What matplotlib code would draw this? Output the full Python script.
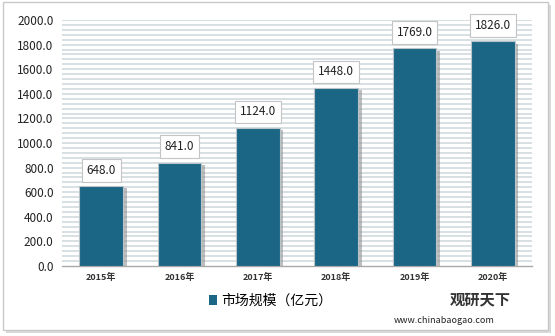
import matplotlib
matplotlib.use("Agg")
import matplotlib.pyplot as plt
import matplotlib.patheffects as pe
from matplotlib.patches import Rectangle

plt.rcParams['font.family'] = ['Noto Sans CJK SC', 'DejaVu Sans']

years = ["2015年", "2016年", "2017年", "2018年", "2019年", "2020年"]
market_size = [648.0, 841.0, 1124.0, 1448.0, 1769.0, 1826.0]
y_ticks = [0, 200, 400, 600, 800, 1000, 1200, 1400, 1600, 1800, 2000]
legend_label = "市场规模（亿元）"

bar_color = "#1b6585"

fig = plt.figure(figsize=(5.55, 3.36), dpi=100)
fig.patch.set_facecolor("white")

# outer frame with soft shadow
shadow = Rectangle((0.010, 0.008), 0.982, 0.978, transform=fig.transFigure,
                   facecolor="#d9d9d9", edgecolor="none", zorder=-2)
frame = Rectangle((0.005, 0.018), 0.982, 0.975, transform=fig.transFigure,
                  facecolor="white", edgecolor="#c8c8c8", linewidth=1.0, zorder=-1)
fig.patches.extend([shadow, frame])

ax = fig.add_axes([0.1117, 0.2083, 0.847, 0.7321])
ax.set_facecolor("none")
ax.set_ylim(0, 2000)
ax.set_xlim(-0.5, len(years) - 0.5)

# striped background
for lv in range(40, 2001, 40):
    ax.axhline(lv, color="#d6dde0", linewidth=1.3, zorder=0)

x = list(range(len(years)))
bars = ax.bar(x, market_size, width=0.56, color=bar_color,
              edgecolor="#b9c4c9", linewidth=0.8, zorder=3)
for b in bars:
    b.set_path_effects([pe.SimplePatchShadow(offset=(2.5, -1.5), shadow_rgbFace="#8a8a8a", alpha=0.55),
                        pe.Normal()])

for xi, v in zip(x, market_size):
    ax.annotate(f"{v:.1f}", (xi, v), xytext=(0, 11.5), textcoords="offset points",
                ha="center", va="center", fontsize=8.5, color="#222222", zorder=5,
                bbox=dict(boxstyle="square,pad=0.4", facecolor="white", edgecolor="#c4c4c4",
                          linewidth=0.8))

ax.set_yticks(y_ticks)
ax.set_yticklabels([f"{t:.1f}" for t in y_ticks], fontsize=8.5, color="#222222")
ax.set_xticks(x)
ax.set_xticklabels(years, fontsize=6.5, color="#333333", fontweight="bold")
ax.tick_params(axis="both", length=0)
ax.tick_params(axis="x", pad=5)
ax.tick_params(axis="y", pad=6)
for s in ["top", "right", "left"]:
    ax.spines[s].set_visible(False)
ax.spines["bottom"].set_color("#a9a9a9")
ax.spines["bottom"].set_linewidth(1.0)

# legend
fig.legend(handles=[Rectangle((0, 0), 1, 1, facecolor=bar_color)], labels=[legend_label],
           loc="center", bbox_to_anchor=(0.488, 0.105), frameon=False, fontsize=10,
           handlelength=0.6, handleheight=0.7, handletextpad=0.3)

# publisher mark
fig.text(0.865, 0.108, "观研天下", fontsize=11, fontweight="bold", color="#333333",
         ha="center", va="center")
fig.text(0.80, 0.045, "www.chinabaogao.com", fontsize=6.5, color="#222222",
         ha="center", va="center")

fig.savefig("out.png", dpi=100, facecolor="white")
